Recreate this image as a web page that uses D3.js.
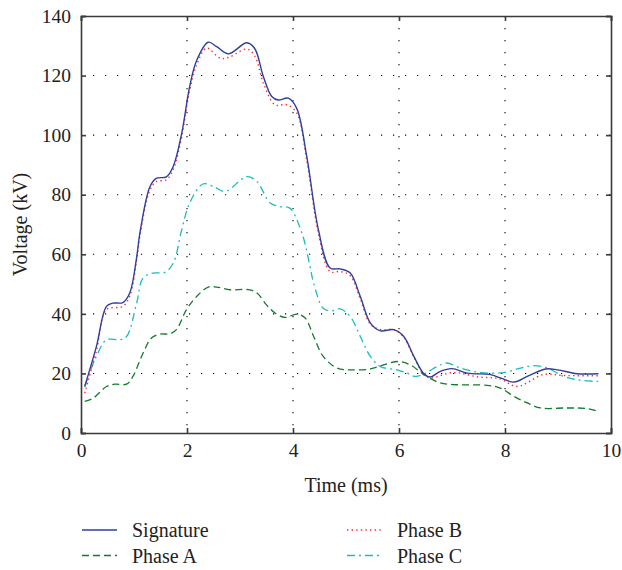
<!DOCTYPE html>
<html>
<head>
    <script src="https://d3js.org/d3.v7.min.js"></script>
    <style>
        body { margin: 0; background: #fff; }
    </style>
</head>
<body>
<div id="chart"></div>
<script>
    // time (ms) / voltage (kV)
    const sigT = [0.07, 0.29, 0.48, 0.6, 0.79, 0.92, 1.05, 1.11, 1.3, 1.42, 1.61, 1.74, 1.9, 2.05, 2.18, 2.4, 2.56, 2.78, 3.13, 3.28, 3.44, 3.6, 3.72, 3.91, 4.07, 4.26, 4.48, 4.7, 4.89, 5.08, 5.27, 5.46, 5.65, 5.9, 6.09, 6.28, 6.47, 6.59, 6.78, 7.0, 7.29, 7.73, 7.91, 8.17, 8.42, 8.77, 8.99, 9.36, 9.76];
    const sigV = [15.6, 29, 42.5, 43.6, 43.8, 47, 59, 67, 82.7, 85.5, 86, 89.5, 100.6, 116.3, 125, 131.2, 129.7, 127.3, 131, 129, 119.7, 113, 111.8, 112.4, 109, 92.8, 68.2, 55.4, 55.1, 53.7, 45.8, 36.9, 34.3, 34.7, 32.4, 25.7, 19.9, 18.8, 20.7, 21.6, 20.1, 19.6, 18.5, 17.1, 19, 21.5, 21.2, 19.9, 19.9];

    const aT = [0.07, 0.23, 0.48, 0.64, 0.86, 0.98, 1.17, 1.33, 1.49, 1.68, 1.8, 1.99, 2.18, 2.4, 2.56, 2.81, 3.16, 3.32, 3.5, 3.66, 3.85, 4.07, 4.23, 4.39, 4.57, 4.83, 5.08, 5.46, 5.71, 5.99, 6.21, 6.47, 6.78, 7.1, 7.66, 7.91, 8.17, 8.42, 8.67, 9.17, 9.55, 9.76];
    const aV = [10.6, 11.7, 15.6, 16.4, 16.4, 19, 26.8, 31.9, 33.2, 33.3, 34.7, 41.4, 45.8, 49, 49, 48.1, 48.1, 47, 43, 40.3, 38.8, 39.9, 38.6, 32.4, 25.7, 21.8, 21.2, 21.5, 22.9, 24, 22.9, 19.6, 16.8, 16.2, 16, 15.1, 12.3, 10.1, 8.4, 8.4, 8.2, 7.2];

    const bT = [0.07, 0.29, 0.48, 0.79, 0.92, 1.05, 1.11, 1.3, 1.42, 1.61, 1.74, 1.9, 2.05, 2.18, 2.37, 2.63, 2.8, 3.13, 3.28, 3.44, 3.66, 3.88, 4.07, 4.26, 4.48, 4.7, 4.89, 5.08, 5.27, 5.46, 5.65, 5.9, 6.09, 6.28, 6.47, 6.59, 7.02, 7.5, 7.9, 8.23, 8.72, 9.13, 9.76];
    const bV = [13.4, 27.5, 41.4, 42.5, 46, 58, 66, 81.5, 84.4, 85, 88.5, 99.5, 115, 123.5, 129.2, 125.8, 126.2, 128.9, 126.5, 117.5, 110.2, 110.2, 107.5, 91.5, 67, 54.2, 54.2, 52.8, 45, 36.5, 34.7, 34.7, 32.2, 25.5, 19.6, 18.5, 20.3, 18.8, 18.2, 15.6, 19.6, 19.3, 19.2];

    const cT = [0.07, 0.29, 0.48, 0.73, 0.86, 1.05, 1.17, 1.36, 1.58, 1.74, 1.9, 2.05, 2.3, 2.5, 2.72, 3.13, 3.32, 3.57, 3.76, 3.94, 4.17, 4.32, 4.39, 4.57, 4.73, 4.89, 5.08, 5.27, 5.46, 5.65, 5.96, 6.15, 6.31, 6.5, 6.72, 6.9, 7.16, 7.54, 7.98, 8.29, 8.54, 8.8, 9.11, 9.43, 9.76];
    const cV = [15.6, 25.7, 31.3, 31.3, 32.4, 43.6, 52, 53.7, 53.9, 57, 68.2, 77.2, 83.6, 82.8, 81.1, 86.1, 84.4, 77.2, 76, 75.5, 67, 56, 50.3, 41.9, 41, 41.7, 39.1, 32.4, 25.7, 22.3, 21.2, 20.1, 19, 20.1, 22.3, 23.5, 21.8, 20.3, 20.3, 21.8, 22.6, 21.8, 19, 17.7, 17.3];

    const xTicks = [0, 2, 4, 6, 8, 10];
    const yTicks = [0, 20, 40, 60, 80, 100, 120, 140];

    const series = [
        { name: 'Signature', t: sigT, v: sigV, color: '#2f3f9c', dash: null, w: 1.4 },
        { name: 'Phase B', t: bT, v: bV, color: '#ff2a2a', dash: '1.4,3.2', w: 1.4 },
        { name: 'Phase A', t: aT, v: aV, color: '#137a2e', dash: '7,4', w: 1.3 },
        { name: 'Phase C', t: cT, v: cV, color: '#1bbcbc', dash: '8,4,2,4', w: 1.3 }
    ];

    const W = 622, H = 570;
    const m = { left: 81, right: 11, top: 16, bottom: 137 };
    const serif = "'Liberation Serif', 'Times New Roman', serif";

    const svg = d3.select('#chart').append('svg')
        .attr('width', W).attr('height', H);

    const x = d3.scaleLinear().domain([0, 10]).range([m.left, W - m.right]);
    const y = d3.scaleLinear().domain([0, 140]).range([H - m.bottom, m.top]);

    // dotted grid
    const grid = svg.append('g');
    grid.selectAll('.gx').data(xTicks.slice(1, -1)).join('line')
        .attr('x1', d => x(d)).attr('x2', d => x(d))
        .attr('y1', y(140)).attr('y2', y(0))
        .attr('stroke', '#000').attr('stroke-width', 1.1)
        .attr('stroke-dasharray', '1.2,10.8');
    grid.selectAll('.gy').data(yTicks.slice(1, -1)).join('line')
        .attr('x1', x(0)).attr('x2', x(10))
        .attr('y1', d => y(d)).attr('y2', d => y(d))
        .attr('stroke', '#000').attr('stroke-width', 1.1)
        .attr('stroke-dasharray', '1.2,10.8');

    // axes with inward ticks
    const fontSize = 20;
    svg.append('g').attr('transform', `translate(0,${y(0)})`)
        .call(d3.axisBottom(x).tickValues(xTicks).tickSize(-5).tickPadding(10));
    svg.append('g').attr('transform', `translate(${x(0)},0)`)
        .call(d3.axisLeft(y).tickValues(yTicks).tickSize(-5).tickPadding(10));
    svg.append('g').attr('transform', `translate(0,${y(140)})`)
        .call(d3.axisTop(x).tickValues(xTicks).tickSize(-5).tickFormat(''));
    svg.append('g').attr('transform', `translate(${x(10)},0)`)
        .call(d3.axisRight(y).tickValues(yTicks).tickSize(-5).tickFormat(''));
    svg.selectAll('g').attr('font-family', serif);
    svg.selectAll('.domain, .tick line').attr('stroke', '#3a3a3a').attr('stroke-width', 1.6);
    svg.selectAll('.tick text').attr('font-size', 19.5).attr('fill', '#222');

    // lines
    const line = d3.line()
        .x(d => x(d[0])).y(d => y(d[1]))
        .curve(d3.curveCatmullRom.alpha(0.5));
    const order = ['Phase A', 'Phase C', 'Phase B', 'Signature'];
    order.forEach(n => {
        const s = series.find(d => d.name === n);
        svg.append('path')
            .datum(d3.zip(s.t, s.v))
            .attr('d', line)
            .attr('fill', 'none')
            .attr('stroke', s.color)
            .attr('stroke-width', s.w)
            .attr('stroke-dasharray', s.dash);
    });

    // axis titles
    svg.append('text').attr('x', 346).attr('y', 492)
        .attr('text-anchor', 'middle').attr('font-size', fontSize)
        .attr('font-family', serif).attr('fill', '#222').text('Time (ms)');
    svg.append('text')
        .attr('transform', `translate(27,${(y(0) + y(140)) / 2}) rotate(-90)`)
        .attr('text-anchor', 'middle').attr('font-size', fontSize)
        .attr('font-family', serif).attr('fill', '#222').text('Voltage (kV)');

    // legend, two columns
    const legendPos = [
        { name: 'Signature', lx: 82, ly: 530 },
        { name: 'Phase A', lx: 82, ly: 555.5 },
        { name: 'Phase B', lx: 347, ly: 530 },
        { name: 'Phase C', lx: 347, ly: 555.5 }
    ];
    legendPos.forEach(p => {
        const s = series.find(d => d.name === p.name);
        svg.append('line')
            .attr('x1', p.lx).attr('x2', p.lx + 35)
            .attr('y1', p.ly).attr('y2', p.ly)
            .attr('stroke', s.color).attr('stroke-width', s.w)
            .attr('stroke-dasharray', s.dash);
        svg.append('text').attr('x', p.lx + 50).attr('y', p.ly + 7)
            .attr('font-size', fontSize).attr('font-family', serif)
            .attr('fill', '#222').text(s.name);
    });
</script>
</body>
</html>
